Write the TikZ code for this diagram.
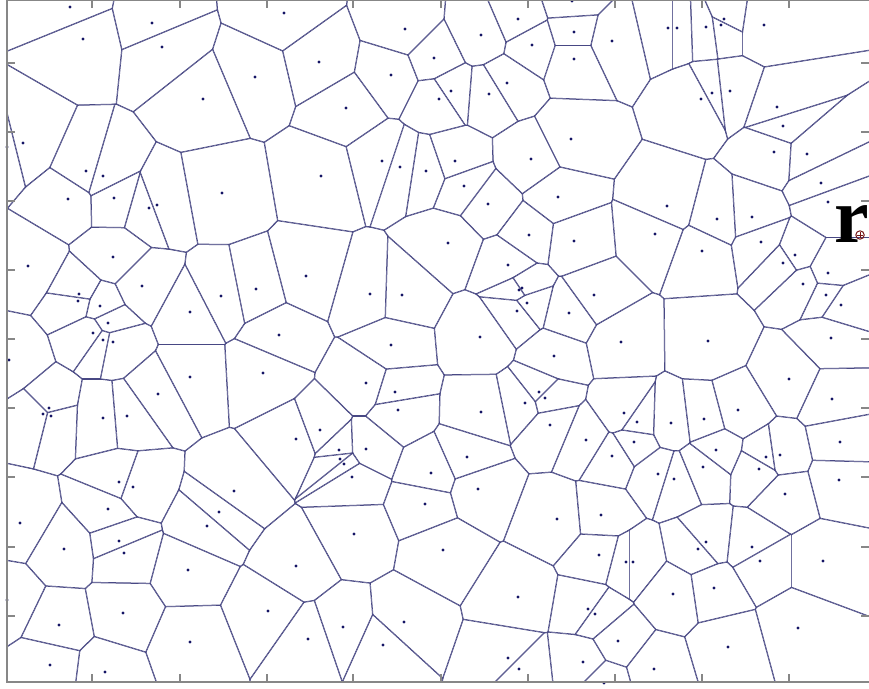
\documentclass[tikz,border=0pt]{standalone}
\usepackage{fontspec}
\setmainfont{Liberation Serif}
\definecolor{edgec}{RGB}{72,72,132}
\definecolor{dotc}{RGB}{20,20,100}
\definecolor{axc}{RGB}{135,135,135}
\definecolor{mkc}{RGB}{120,25,25}
\tikzset{
  axline/.style={draw=axc,line width=1.6pt},
  tickln/.style={draw=axc,line width=1.2pt},
  seeddot/.style={fill=dotc}
}
\newcount\vi \newcount\vj \newcount\vN \newcount\vdx \newcount\vdy
\newtoks\vtoks
\def\vRsq{32400}
\def\vpts{70/7,152/23,83/39,162/47,284/13,255/77,203/99,23/143,7/147,86/171,103/176,68/199,114/198,149/208,157/205,222/193,405/29,481/35,518/19,572/1,574/32,532/45,574/59,319/62,391/75,434/58,451/91,439/99,489/94,507/83,346/108,571/139,531/159,321/176,382/161,400/167,426/171,455/161,464/186,488/204,558/197,529/235,612/41,668/28,677/28,706/27,724/19,721/25,764/25,712/93,701/99,730/91,777/107,783/126,774/152,807/154,821/183,828/202,667/206,717/219,752/217,655/234,28/266,113/257,79/294,78/301,100/306,142/286,108/323,93/333,103/340,113/342,9/360,190/312,221/296,256/289,279/335,263/373,190/377,158/394,49/408,43/414,51/416,103/418,127/416,296/439,448/243,306/276,370/294,402/295,574/241,508/265,522/288,519/290,527/303,517/311,569/313,480/337,391/345,554/356,366/383,395/392,398/410,481/412,539/392,545/398,525/403,550/425,586/440,320/430,339/450,340/459,344/464,366/449,467/457,702/251,761/242,795/255,783/263,828/273,803/284,826/295,841/305,594/295,621/342,708/341,831/338,789/379,832/399,738/410,704/419,671/423,624/413,637/422,634/442,612/456,716/450,766/457,780/455,840/442,119/482,133/487,108/509,20/523,64/549,119/541,124/553,234/491,219/512,207/526,188/570,296/566,123/613,59/625,7/600,268/611,190/642,50/665,105/672,352/477,431/473,478/489,425/504,557/519,354/534,443/550,518/597,588/609,343/627,404/622,308/639,383/645,508/658,519/669,583/662,658/474,674/479,703/467,759/469,839/480,785/494,601/515,706/542,698/549,752/547,760/561,823/561,599/555,626/562,633/562,714/588,673/594,595/614,798/628,618/641,728/647,654/669,604/683}
\def\vedgeln#1#2#3#4{\pgfpathmoveto{\pgfqpoint{#1}{#2}}\pgfpathlineto{\pgfqpoint{#3}{#4}}\pgfusepath{stroke}}
\def\vdopair{%
  \pgfmathsetmacro\vk{3000/veclen(\the\vdx,\the\vdy)}%
  \pgfmathsetmacro\vax{\vk*\the\vdx}%
  \pgfmathsetmacro\vay{\vk*\the\vdy}%
  \edef\vmx{\the\dimexpr(\csname vx\the\vi\endcsname pt+\csname vx\the\vj\endcsname pt)/2\relax}%
  \edef\vmy{\the\dimexpr(\csname vy\the\vi\endcsname pt+\csname vy\the\vj\endcsname pt)/2\relax}%
  \edef\vpx{\the\dimexpr\vmx-\vay pt\relax}%
  \edef\vpy{\the\dimexpr\vmy+\vax pt\relax}%
  \edef\vqx{\the\dimexpr\vmx+\vay pt\relax}%
  \edef\vqy{\the\dimexpr\vmy-\vax pt\relax}%
  \pgfpathmoveto{\pgfqpoint{\vpx}{\vpy}}%
  \pgfpathlineto{\pgfqpoint{\dimexpr\vpx-\vax pt\relax}{\dimexpr\vpy-\vay pt\relax}}%
  \pgfpathlineto{\pgfqpoint{\dimexpr\vqx-\vax pt\relax}{\dimexpr\vqy-\vay pt\relax}}%
  \pgfpathlineto{\pgfqpoint{\vqx}{\vqy}}%
  \pgfpathclose
  \pgfusepath{clip}%
  \edef\vtmp{\the\vtoks\noexpand\vedgeln{\vpx}{\vpy}{\vqx}{\vqy}}%
  \global\vtoks=\expandafter{\vtmp}%
}
\def\vpair{%
  \vdx=\numexpr\csname vx\the\vj\endcsname-\csname vx\the\vi\endcsname\relax
  \vdy=\numexpr\csname vy\the\vj\endcsname-\csname vy\the\vi\endcsname\relax
  \ifnum\numexpr\vdx*\vdx+\vdy*\vdy\relax<\vRsq\relax
    \vdopair
  \fi}
\def\vinner{%
  \ifnum\vj<\vN
    \advance\vj by 1
    \ifnum\vj=\vi\else\vpair\fi
    \expandafter\vinner
  \fi}
\def\vcell{%
  \begin{pgfscope}%
    \pgfsetlinewidth{1.25pt}%
    \pgfsetstrokecolor{edgec}%
    \global\vtoks={}%
    \vj=0
    \vinner
    \the\vtoks
  \end{pgfscope}}
\def\vouter{%
  \ifnum\vi<\vN
    \advance\vi by 1
    \vcell
    \expandafter\vouter
  \fi}
\begin{document}
\begin{tikzpicture}[x=1pt,y=1pt]
\useasboundingbox (0,0) rectangle (869,688);
\fill[white] (0,0) rectangle (869,688);
\global\vN=0
\foreach \a/\b in \vpts {\global\advance\vN by 1
  \expandafter\xdef\csname vx\the\vN\endcsname{\a}%
  \expandafter\xdef\csname vy\the\vN\endcsname{\the\numexpr688-\b\relax}}
\begin{scope}
  \clip (7,6) rectangle (869,688);
  \vi=0
  \vouter
\end{scope}
\foreach \a/\b in \vpts {\fill[seeddot] (\a,688-\b) circle (1.7);}
% axes frame
\draw[axline] (7,6) -- (7,688);
\draw[axline] (6.2,6) -- (869,6);
\draw[axline] (7,687.6) -- (869,687.6);
\foreach \t in {63,132,201,270,339,408,477,547,616} {
  \draw[tickln] (7,688-\t) -- (15,688-\t);
  \draw[tickln] (869,688-\t) -- (861,688-\t);}
\foreach \t in {92,180,267,353,441,528,615,702,789} {
  \draw[tickln] (\t,6) -- (\t,14);
  \draw[tickln] (\t,688) -- (\t,680);}
% label and marker
\node[font=\bfseries\fontsize{78}{78}\selectfont,anchor=base west,inner sep=0pt,text=black] (rlab) at (834,445) {r};
\coordinate (mk) at (860,453);
\draw[mkc,line width=1pt] (mk) circle (4.2);
\draw[mkc,line width=0.8pt] ([xshift=-2.6pt]mk) -- ([xshift=2.6pt]mk) ([yshift=-2.6pt]mk) -- ([yshift=2.6pt]mk);
\end{tikzpicture}
\end{document}
